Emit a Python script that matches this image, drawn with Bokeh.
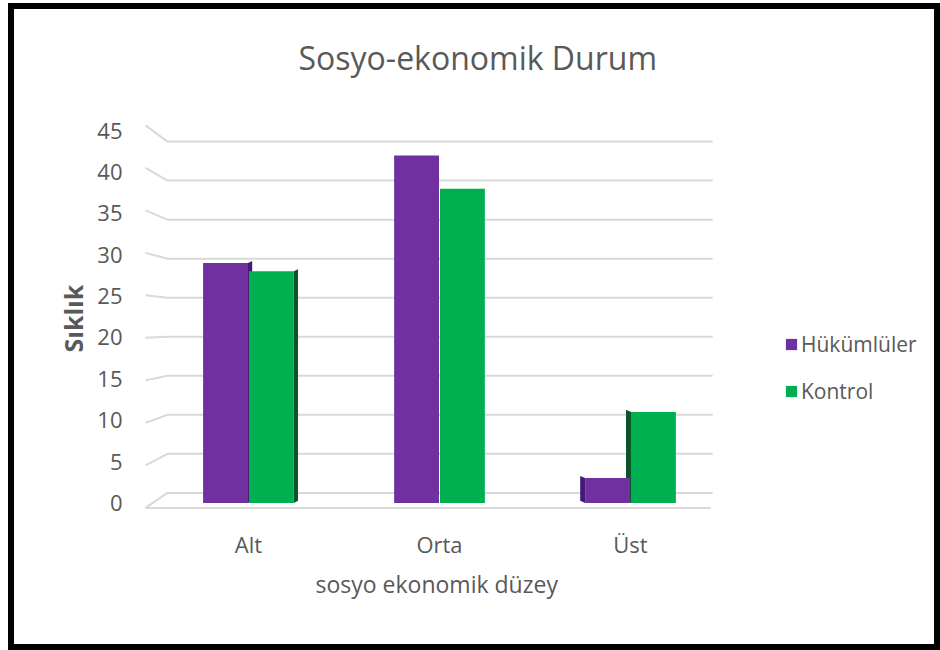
from bokeh.plotting import figure
from bokeh.models import (FixedTicker, Legend, LegendItem, ColumnDataSource, Range1d, Title, Label)
from bokeh.embed import file_html
from bokeh.resources import INLINE

# ---------------- data ----------------
categories = ["Alt", "Orta", "Üst"]
series_names = ["Hükümlüler", "Kontrol"]
hukumluler = [29, 42, 3]
kontrol = [28, 38, 11]
y_ticks = [0, 5, 10, 15, 20, 25, 30, 35, 40, 45]
title_text = "Sosyo-ekonomik Durum"
x_title = "sosyo ekonomik düzey"
y_title = "Sıklık"

# ---------------- style ----------------
PURPLE, GREEN = "#7030A0", "#00B050"
PURPLE_D, GREEN_D = "#45197A", "#0A5428"
TXT = "#595959"
GRID = "#d9d9d9"
FONT = "Open Sans"
BAR_W = 0.235
OFFS = [-0.12, 0.12]
SIDE_DX = [0.022, 0.0, -0.026]    # pseudo-3D side face per category
SIDE_UP = 0.25
# perspective of the back wall / front edge relative to the bar plane
X_FRONT, X_BACK, X_RIGHT, X_FRONT_R = -0.539, -0.424, 2.43, 2.42
def y_front(v):
    return -0.605 + 1.028 * v
def y_back(v):
    return 1.21 + 0.944 * v

W, H = 932, 647
p = figure(width=W, height=H, output_backend="svg", toolbar_location=None,
           x_range=Range1d(-0.56, 3.56), y_range=Range1d(-0.8, 59.3),
           min_border_left=127, min_border_right=18, min_border_top=3,
           min_border_bottom=147, title=None)
p.styles = {"border": "6px solid black", "margin-left": "8px", "margin-top": "3px"}
p.background_fill_color = "white"
p.border_fill_color = "white"
p.outline_line_color = None
p.xgrid.visible = False
p.ygrid.visible = False

# gridlines on the pseudo-3D back wall
gx, gy = [], []
for v in y_ticks:
    if v == 0:
        gx.append([X_FRONT_R, X_FRONT, X_BACK, X_RIGHT])
        gy.append([y_front(0), y_front(0), y_back(0), y_back(0)])
    else:
        gx.append([X_FRONT, X_BACK, X_RIGHT])
        gy.append([y_front(v), y_back(v), y_back(v)])
p.multi_line(gx, gy, line_color=GRID, line_width=2)

# side faces
sx, sy, sc = [], [], []
for si, (vals, dcol) in enumerate([(hukumluler, PURPLE_D), (kontrol, GREEN_D)]):
    for ci, v in enumerate(vals):
        dx = SIDE_DX[ci]
        if dx == 0:
            continue
        c = ci + OFFS[si]
        xe = c + BAR_W / 2 if dx > 0 else c - BAR_W / 2
        sx.append([xe, xe, xe + dx, xe + dx])
        sy.append([0, v, v + SIDE_UP, SIDE_UP])
        sc.append(dcol)
p.patches(sx, sy, fill_color=sc, line_color=None)

# bars
src_h = ColumnDataSource(dict(x=[i + OFFS[0] for i in range(len(categories))], top=hukumluler))
src_k = ColumnDataSource(dict(x=[i + OFFS[1] for i in range(len(categories))], top=kontrol))
r_h = p.vbar(x="x", top="top", width=BAR_W, bottom=0, source=src_h, fill_color=PURPLE, line_color=None)
r_k = p.vbar(x="x", top="top", width=BAR_W, bottom=0, source=src_k, fill_color=GREEN, line_color=None)

# axes
p.yaxis.ticker = FixedTicker(ticks=y_ticks)
p.xaxis.ticker = FixedTicker(ticks=list(range(len(categories))))
p.xaxis.major_label_overrides = {i: c for i, c in enumerate(categories)}
for ax in (p.xaxis, p.yaxis):
    ax.axis_line_color = None
    ax.major_tick_line_color = None
    ax.minor_tick_line_color = None
    ax.major_label_text_font = FONT
    ax.major_label_text_font_size = "22px"
    ax.major_label_text_color = TXT
p.yaxis.major_label_standoff = 13
p.xaxis.major_label_standoff = 13

# titles
p.add_layout(Label(x=157, y=452, x_units="screen", y_units="screen", text=title_text,
                   text_font=FONT, text_font_size="32px", text_color=TXT,
                   text_align="left", text_baseline="alphabetic"))
p.add_layout(Title(text=x_title, align="left", offset=174, standoff=8,
                   text_font=FONT, text_font_size="23px", text_font_style="normal",
                   text_color=TXT), "below")
p.add_layout(Title(text=y_title, align="left", offset=157, standoff=10,
                   text_font=FONT, text_font_size="25px", text_font_style="bold",
                   text_color=TXT), "left")

legend = Legend(items=[LegendItem(label=series_names[0], renderers=[r_h]),
                       LegendItem(label=series_names[1], renderers=[r_k])],
                location=(643, 104), orientation="vertical",
                glyph_width=14, glyph_height=14, label_standoff=3, spacing=19,
                padding=0, margin=0, border_line_color=None, background_fill_alpha=0,
                label_text_font=FONT, label_text_font_size="21px", label_text_color=TXT)
p.add_layout(legend, "center")

open("out.html", "w").write(file_html(p, INLINE))
